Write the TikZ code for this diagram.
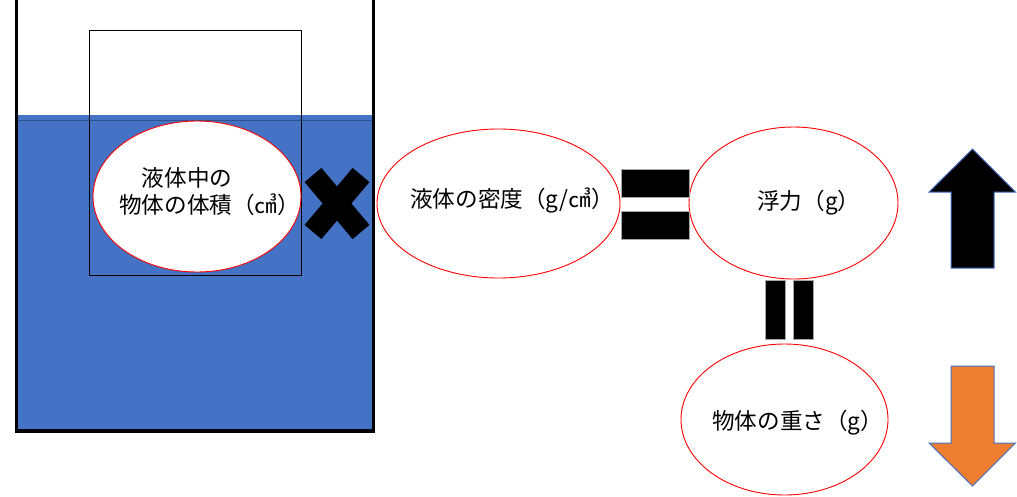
\documentclass[tikz,border=0pt]{standalone}
\usepackage{fontspec}
\setmainfont{Noto Sans CJK JP}
\usetikzlibrary{shapes.geometric}
\definecolor{water}{HTML}{4472C4}
\definecolor{waterline}{HTML}{2F528F}
\definecolor{orangefill}{HTML}{ED7D31}
\definecolor{arrowedge}{HTML}{4472C4}
\begin{document}
\begin{tikzpicture}[x=1pt,y=-1pt,
  oval/.style={ellipse, draw=red, line width=0.9pt, fill=white, inner sep=0pt},
  txt/.style={inner sep=0pt, font=\fontsize{22.6}{27}\selectfont, anchor=west},
  bar/.style={fill=black, draw=gray!70, line width=0.6pt},
  timesarm/.style={line width=22pt, black},
  bigarrow/.style={draw=arrowedge, line width=1pt, line join=miter}]
\useasboundingbox (0,0) rectangle (1017,496);
% container with liquid
\fill[water] (18,115) rectangle (372,430);
\draw[waterline, line width=0.8pt] (18,120) -- (372,120);
\draw[black, line width=1pt] (89,30) rectangle (301,275);
\draw[line width=3.5pt, line join=miter] (16.5,-3) -- (16.5,431) -- (373.5,431) -- (373.5,-3);
% ellipses
\node[oval, minimum width=208pt, minimum height=151pt] (e1) at (197,196.5) {};
\node[oval, minimum width=243pt, minimum height=149pt] (e2) at (498.5,203.5) {};
\node[oval, minimum width=209pt, minimum height=152pt] (e3) at (793.5,203) {};
\node[oval, minimum width=207pt, minimum height=151pt] (e4) at (784.5,419.5) {};
% texts
\node[txt, align=left] (t1) at (119,191.5) {\hspace*{1em}液体中の\\物体の体積（㎤）};
\node[txt] (t2) at (410,200) {液体の密度（g/㎤）};
\node[txt] (t3) at (757,203) {浮力（g）};
\node[txt] (t4) at (712,423) {物体の重さ（g）};
% times sign
\draw[timesarm] (313,175) -- (361,232);
\draw[timesarm] (361,175) -- (313,232);
% equals signs
\draw[bar] (621,169) rectangle (689,197);
\draw[bar] (621,211) rectangle (689,239);
\draw[bar] (765,280) rectangle (785,339);
\draw[bar] (793,280) rectangle (813,339);
% arrows
\draw[bigarrow, fill=black] (972.5,149) -- (1015.5,192) -- (994,192) -- (994,268) -- (951,268) -- (951,192) -- (929,192) -- cycle;
\draw[bigarrow, fill=orangefill] (951,366) -- (994,366) -- (994,443) -- (1015.5,443) -- (972.5,486) -- (929,443) -- (951,443) -- cycle;
\end{tikzpicture}
\end{document}
